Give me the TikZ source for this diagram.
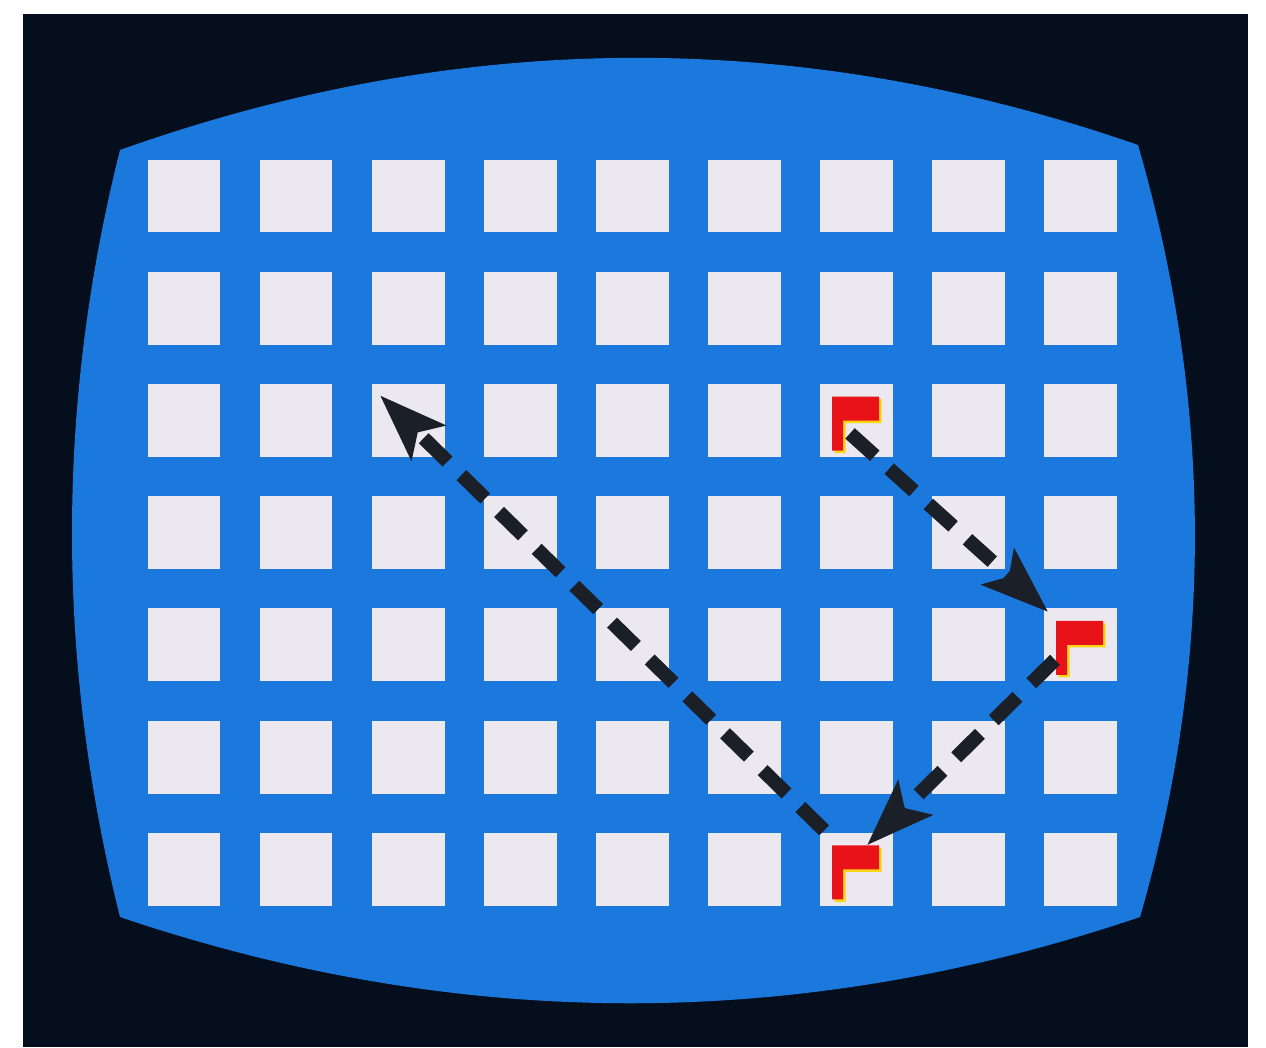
\documentclass[tikz,border=0pt]{standalone}
\usepackage{tikz}
\usetikzlibrary{arrows.meta, calc}

\definecolor{framecol}{RGB}{4,14,28}
\definecolor{screencol}{RGB}{27,121,222}
\definecolor{tilecol}{RGB}{236,232,240}
\definecolor{pathcol}{RGB}{26,31,40}
\definecolor{flagred}{RGB}{232,18,24}
\definecolor{flagyel}{RGB}{250,214,20}

\begin{document}
\begin{tikzpicture}[
    x=0.02cm, y=-0.02cm,
    tile/.style = {rectangle, fill=tilecol, minimum size=1.46cm, inner sep=0pt},
    move/.style = {draw=pathcol, line width=8pt,
      dash pattern=on 19pt off 11pt,
      -{Stealth[length=38pt, width=27pt, inset=8pt]}}
  ]
  \useasboundingbox[fill=white] (0,0) rectangle (1266,1047);
  \fill[framecol] (23,14) rectangle (1248,1047);
  % the curved screen
  \fill[screencol] (120,150) .. controls (460,29) and (799,27) .. (1138,145)
    .. controls (1213,404) and (1214,661) .. (1140,917)
    .. controls (800,1032) and (460,1032) .. (120,917)
    .. controls (56,661) and (56,405) .. cycle;

  % 7 x 9 grid of tiles
  \foreach \r in {1,...,7}
    \foreach \c in {1,...,9}
      \node[tile] (s\r\c) at ({184+(\c-1)*112}, {196+(\r-1)*112.2}) {};

  % red corner flags
  \foreach \m in {s37,s59,s77} {
    \fill[flagyel, shift={(\m.north west)}] (15.5,15.5) -- (62.5,15.5) -- (62.5,39.5)
      -- (26.5,39.5) -- (26.5,69.5) -- (15.5,69.5) -- cycle;
    \fill[flagred, shift={(\m.north west)}] (13,13) -- (60,13) -- (60,37)
      -- (24,37) -- (24,67) -- (13,67) -- cycle;
  }

  % moves
  \draw[move] ($(s37)+(-6,13)$) -- ($(s59.north west)+(5,4)$);
  \draw[move] ($(s59)+(-25,15)$) -- ($(s77)+(11,-24)$);
  \draw[move] ($(s77.north west)+(5,-2)$) -- ($(s33)+(-28,-25)$);
\end{tikzpicture}
\end{document}
